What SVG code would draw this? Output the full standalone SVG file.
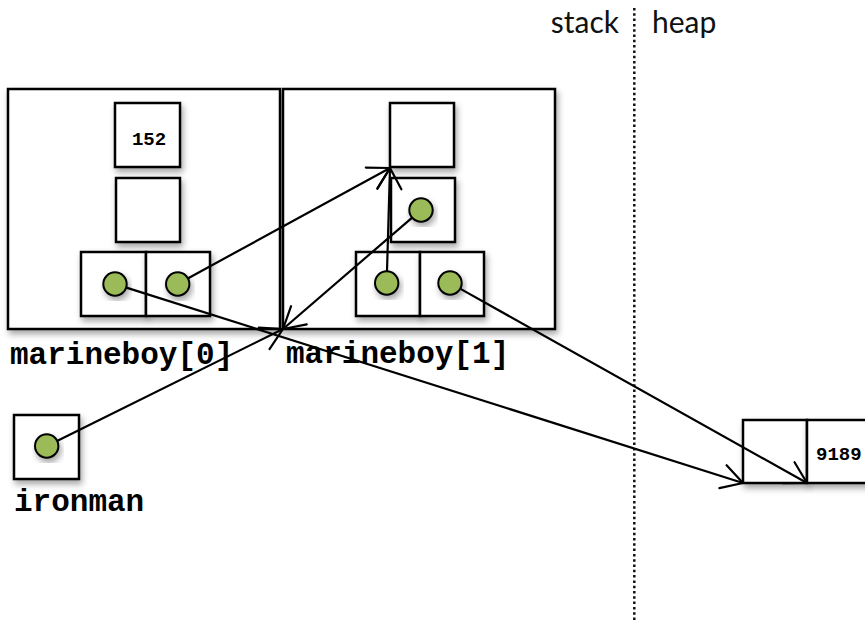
<svg xmlns="http://www.w3.org/2000/svg" width="865" height="624" viewBox="0 0 865 624">
<defs>
<filter id="sh" x="-10%" y="-10%" width="130%" height="130%">
<feDropShadow dx="2" dy="4" stdDeviation="3" flood-color="#000" flood-opacity="0.35"/>
</filter>
<marker id="arr" markerUnits="userSpaceOnUse" markerWidth="30" markerHeight="30" viewBox="-26 -15 30 30" refX="0" refY="0" orient="auto" overflow="visible">
<path d="M-21,-12 L0,0 L-21,12" fill="none" stroke="#000" stroke-width="2.2" stroke-linecap="round" stroke-linejoin="round"/>
</marker>
</defs>
<style>
.box{fill:#fff;stroke:#000;stroke-width:2.5;filter:url(#sh)}
.cell{fill:#fff;stroke:#000;stroke-width:2.5;filter:url(#sh)}
.dot{fill:#9bbb59;stroke:#000;stroke-width:2;filter:url(#sh)}
.lbl{font-family:"Liberation Mono","Courier New",monospace;font-weight:bold;font-size:31px;fill:#000}
.val{font-family:"Liberation Mono","Courier New",monospace;font-weight:bold;font-size:19px;fill:#000}
.hdr{font-family:Lato,"Open Sans",sans-serif;font-size:30px;fill:#111}
.conn line{stroke:#000;stroke-width:2.2;marker-end:url(#arr)}
</style>
<rect width="865" height="624" fill="#fff"/>
<g id="divider">
<line x1="634.3" y1="8" x2="634.3" y2="622" stroke="#111" stroke-width="2.5" stroke-dasharray="2.5 2.8"/>
<text class="hdr" x="619" y="33" text-anchor="end">stack</text>
<text class="hdr" x="652" y="33">heap</text>
</g>
<g id="marineboy0">
<rect class="box" x="8" y="89" width="272" height="240"/>
<rect class="cell" x="115" y="103" width="65" height="64"/>
<text class="val" x="149" y="145" text-anchor="middle">152</text>
<rect class="cell" x="116" y="178" width="64" height="64"/>
<rect class="cell" x="81" y="252" width="65" height="64"/>
<rect class="cell" x="146" y="252" width="64" height="64"/>
<circle class="dot" cx="115" cy="284" r="11.7"/>
<circle class="dot" cx="177.7" cy="284" r="11.7"/>
<text class="lbl" x="10" y="364">marineboy[0]</text>
</g>
<g id="marineboy1">
<rect class="box" x="283" y="89" width="272" height="240"/>
<rect class="cell" x="390" y="103" width="64" height="64"/>
<rect class="cell" x="391" y="178" width="64" height="64"/>
<circle class="dot" cx="421" cy="210" r="11.7"/>
<rect class="cell" x="356" y="252" width="64" height="64"/>
<rect class="cell" x="420" y="252" width="64" height="64"/>
<circle class="dot" cx="386.7" cy="283" r="11.7"/>
<circle class="dot" cx="450" cy="283" r="11.7"/>
<text class="lbl" x="286" y="363">marineboy[1]</text>
</g>
<g id="ironman">
<rect class="cell" x="14" y="415" width="65" height="64"/>
<circle class="dot" cx="46.7" cy="446" r="11.7"/>
<text class="lbl" x="14" y="511">ironman</text>
</g>
<g id="heapobj">
<rect class="cell" x="743" y="420" width="64" height="63"/>
<rect class="cell" x="807" y="420" width="70" height="63"/>
<text class="val" x="816" y="460">9189</text>
</g>
<g id="connectors" class="conn">
<line x1="188.2" y1="278.2" x2="390" y2="168"/>
<line x1="387" y1="271" x2="390" y2="168"/>
<line x1="411.9" y1="217.8" x2="283" y2="329"/>
<line x1="57.5" y1="440.7" x2="283" y2="329"/>
<line x1="126.4" y1="287.6" x2="743" y2="483"/>
<line x1="460.5" y1="288.9" x2="807" y2="483"/>
</g>
</svg>
